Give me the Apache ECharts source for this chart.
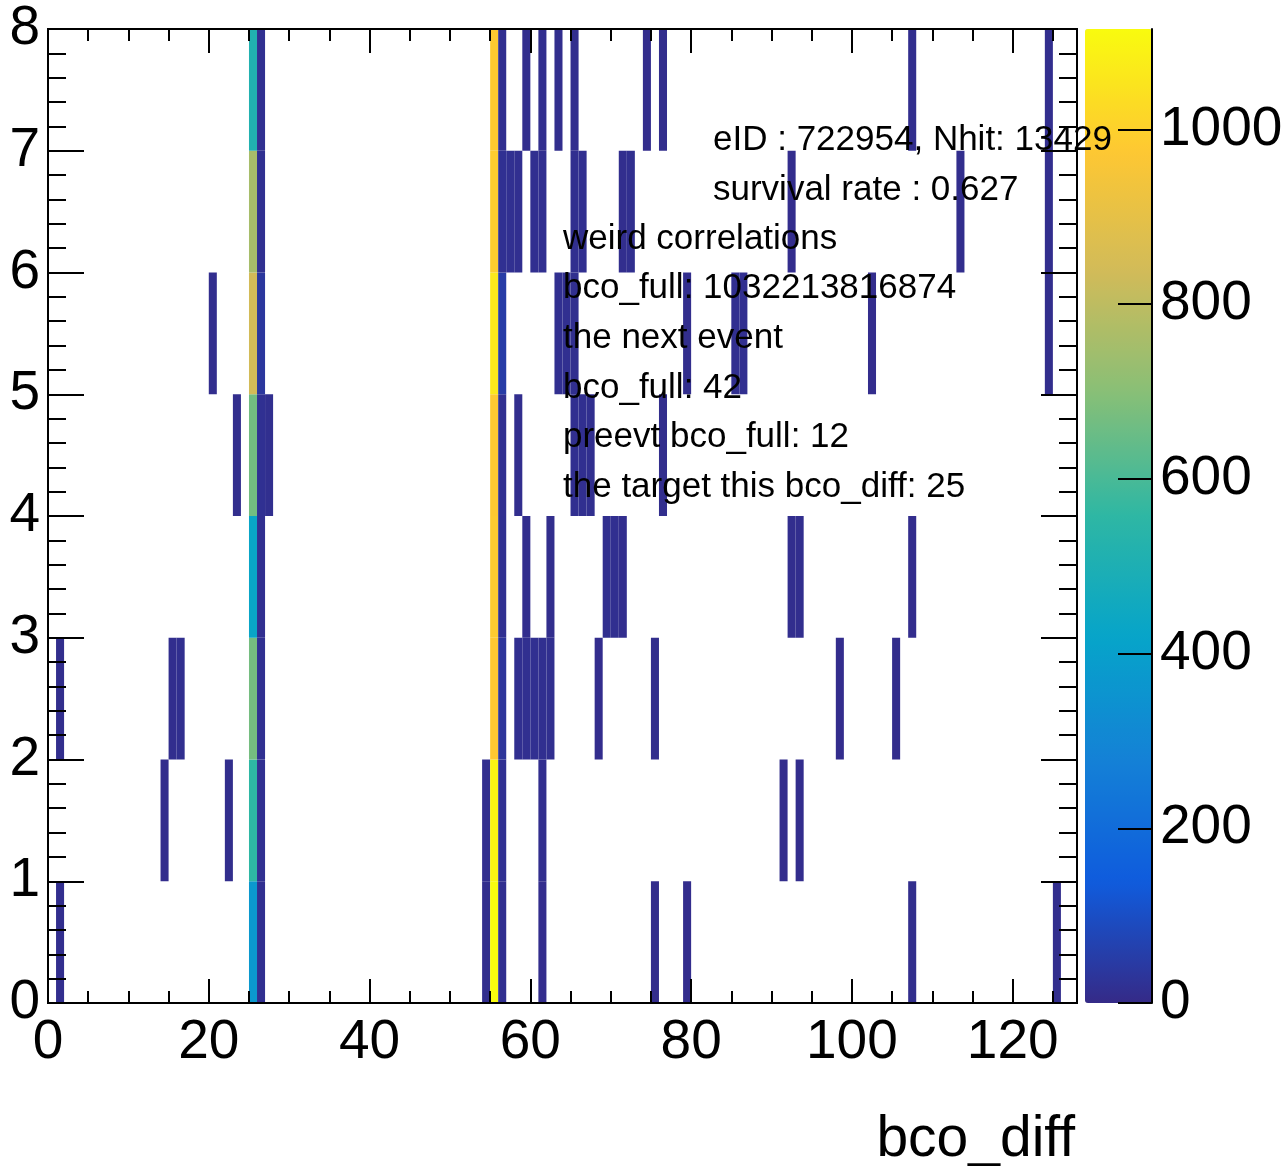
<!DOCTYPE html>
<html>
<head>
<meta charset="utf-8">
<script src="https://cdn.jsdelivr.net/npm/echarts@6/dist/echarts.min.js"></script>
<style>
html,body{margin:0;padding:0;background:#fff;}
#chart{width:1288px;height:1166px;}
</style>
</head>
<body>
<div id="chart"></div>
<script>
// ---- data: [bco_diff bin, count] per row (row index = y bin) ----
const row0 = [[1,12],[25,370],[26,14],[54,10],[55,1115],[56,15],[61,9],[75,8],[79,9],[107,10],[125,11]];
const row1 = [[14,9],[22,10],[25,557],[26,16],[54,12],[55,1095],[56,18],[61,11],[91,8],[93,9]];
const row2 = [[1,10],[15,12],[16,13],[25,668],[26,17],[55,976],[56,30],[58,14],[59,15],[60,16],[61,15],[62,13],[68,9],[75,10],[98,9],[105,8]];
const row3 = [[25,429],[26,15],[55,985],[56,17],[59,11],[62,10],[69,13],[70,14],[71,12],[92,11],[93,12],[107,9]];
const row4 = [[23,10],[25,666],[26,18],[27,13],[55,979],[56,16],[58,11],[65,14],[66,15],[67,13],[76,10]];
const row5 = [[20,11],[25,841],[26,35],[55,1062],[56,50],[63,14],[64,15],[65,13],[79,10],[85,14],[86,15],[102,9],[124,10]];
const row6 = [[25,757],[26,17],[55,988],[56,18],[57,16],[58,15],[60,14],[61,15],[65,13],[66,14],[71,12],[72,13],[92,9],[113,10],[124,11]];
const row7 = [[25,512],[26,16],[55,982],[56,15],[59,12],[61,11],[63,10],[65,12],[74,9],[76,10],[107,11],[124,12]];
const rows = [row0,row1,row2,row3,row4,row5,row6,row7];

const xRange = [0, 128];
const yRange = [0, 8];
const zMax = 1115;
const xTickLabels = [0,20,40,60,80,100,120];
const xMinorTicks = [5,10,15,25,30,35,45,50,55,65,70,75,85,90,95,105,110,115,125];
const yTickLabels = [0,1,2,3,4,5,6,7,8];
const yMinorTicks = [0.2,0.4,0.6,0.8,1.2,1.4,1.6,1.8,2.2,2.4,2.6,2.8,3.2,3.4,3.6,3.8,4.2,4.4,4.6,4.8,5.2,5.4,5.6,5.8,6.2,6.4,6.6,6.8,7.2,7.4,7.6,7.8];
const zTickLabels = [0,200,400,600,800,1000];
const xTitle = 'bco_diff';
const notes = [
  'eID : 722954, Nhit: 13429',
  'survival rate : 0.627',
  'weird correlations',
  'bco_full: 1032213816874',
  'the next event',
  'bco_full: 42',
  'preevt bco_full: 12',
  'the target this bco_diff: 25'
];
const kBird = ['#352a87','#0f5cdd','#1481d6','#06a4ca','#2eb7a4','#87bf77','#d1bb59','#fec832','#f9fb0e'];

// ---- build ----
const cells = [];
rows.forEach((r, yi) => r.forEach(([x, c]) => cells.push([x, yi, c])));

const FONT = '"Liberation Sans", Arial, Helvetica, sans-serif';
const G = {left:48, top:29, width:1029, height:974};
const CB = {left:1085, top:29, width:67, height:974};
const TL = {color:'#000', width:2};

function gridAt(r, extra){ return Object.assign({outerBoundsMode:'none', containLabel:false, show:false}, r, extra); }
function tAxis(grid, pos, range, ticks, len, label){
  return {
    gridIndex:grid, type:'value', position:pos, min:range[0], max:range[1], z:5,
    axisLine:{show:false, onZero:false}, splitLine:{show:false},
    axisTick:{show:true, inside:true, length:len, customValues:ticks, lineStyle:TL},
    axisLabel: label ? Object.assign({show:true, customValues:ticks, fontSize:55, color:'#000', fontFamily:FONT,
      formatter:(v)=>String(v)}, label) : {show:false}
  };
}

const chart = echarts.init(document.getElementById('chart'), null, {renderer:'canvas'});
chart.setOption({
  animation:false,
  backgroundColor:'#fff',
  textStyle:{fontFamily:FONT},
  grid:[
    gridAt(G, {show:true, borderColor:'#000', borderWidth:2, backgroundColor:'transparent', z:6}), // 0 main
    gridAt(G),   // 1 top/right major
    gridAt(G),   // 2 bottom/left minor
    gridAt(G),   // 3 top/right minor
    gridAt(CB)   // 4 colour bar
  ],
  xAxis:[
    tAxis(0, 'bottom', xRange, xTickLabels, 24, {margin:12}),
    tAxis(1, 'top', xRange, xTickLabels, 24),
    tAxis(2, 'bottom', xRange, xMinorTicks, 12),
    tAxis(3, 'top', xRange, xMinorTicks, 12),
    {gridIndex:4, type:'value', min:0, max:1, show:false, axisLine:{onZero:false}}
  ],
  yAxis:[
    tAxis(0, 'left', yRange, yTickLabels, 36, {margin:8, padding:[10,0,0,0]}),
    tAxis(1, 'right', yRange, yTickLabels, 36),
    tAxis(2, 'left', yRange, yMinorTicks, 18),
    tAxis(3, 'right', yRange, yMinorTicks, 18),
    Object.assign(tAxis(4, 'right', [0, zMax], zTickLabels, 34, {margin:8, padding:[4,0,0,0]}),
      {axisLine:{show:true, onZero:false, lineStyle:{color:'#000', width:2}}})
  ],
  visualMap:{
    type:'continuous', min:0, max:zMax, dimension:2, seriesIndex:0,
    calculable:false, orient:'vertical', left:CB.left, top:CB.top,
    itemWidth:CB.width, itemHeight:CB.height, padding:0, z:1,
    inRange:{color:kBird}
  },
  series:[{
    type:'custom', xAxisIndex:0, yAxisIndex:0, coordinateSystem:'cartesian2d',
    encode:{x:0, y:1}, data:cells, z:2,
    renderItem:function(params, api){
      const x = api.value(0), y = api.value(1);
      const p0 = api.coord([x, y + 1]);
      const p1 = api.coord([x + 1, y]);
      return {type:'rect', shape:{x:p0[0], y:p0[1], width:p1[0]-p0[0], height:p1[1]-p0[1]},
              style:{fill:api.visual('color')}};
    }
  }],
  graphic:[
    ...notes.map((t, i) => ({
      type:'text', z:100,
      left: i < 2 ? 713 : 563,
      top: [123,173,222,271,321,371,420,470][i],
      style:{text:t, fontSize:35, fontFamily:FONT, fill:'#000'}
    })),
    {type:'text', z:100, right:1288-1075, top:1112,
     style:{text:xTitle, fontSize:57, fontFamily:FONT, fill:'#000'}}
  ]
});
</script>
</body>
</html>
